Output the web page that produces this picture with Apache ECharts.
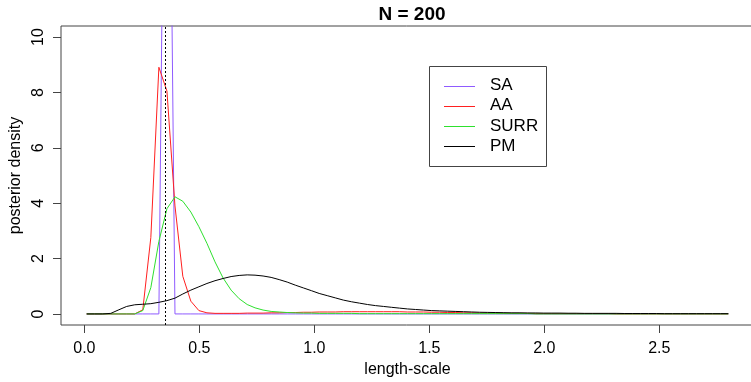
<!DOCTYPE html>
<html>
<head>
<meta charset="utf-8">
<script src="https://cdn.jsdelivr.net/npm/echarts@6/dist/echarts.min.js"></script>
<style>html,body{margin:0;padding:0;background:#fff}#c{width:751px;height:382px}</style>
</head>
<body>
<div id="c"></div>
<script>
// ---- data ----
const xs = [
0.010,0.045,0.080,0.115,0.150,0.184,0.219,0.254,0.289,0.324,
0.359,0.394,0.428,0.463,0.498,0.533,0.568,0.603,0.638,0.673,
0.708,0.742,0.777,0.812,0.847,0.882,0.917,0.952,0.987,1.021,
1.056,1.091,1.126,1.161,1.196,1.231,1.266,1.301,1.335,1.370,
1.405,1.440,1.475,1.510,1.545,1.580,1.615,1.649,1.684,1.719,
1.754,1.789,1.824,1.859,1.894,1.928,1.963,1.998,2.033,2.068,
2.103,2.138,2.173,2.208,2.242,2.277,2.312,2.347,2.382,2.417,
2.452,2.487,2.522,2.557,2.591,2.626,2.661,2.696,2.731,2.766,2.800];

const SA = [
0,0,0,0,0,0,0,0,0,0,
28.7,0,0,0,0,0,0,0,0,0,
0,0,0,0,0,0,0,0,0,0,
0,0,0,0,0,0,0,0,0,0,
0,0,0,0,0,0,0,0,0,0,
0,0,0,0,0,0,0,0,0,0,
0,0,0,0,0,0,0,0,0,0,
0,0,0,0,0,0,0,0,0,0,0];

const AA = [
0,0,0,0,0,0,0,0.15,2.76,8.91,
8.05,3.9,1.36,0.46,0.12,0.04,0.02,0.02,0.02,0.02,
0.03,0.03,0.03,0.04,0.04,0.05,0.05,0.06,0.06,0.07,
0.07,0.07,0.08,0.08,0.08,0.08,0.08,0.08,0.08,0.08,
0.07,0.07,0.07,0.06,0.06,0.05,0.05,0.04,0.04,0.03,
0.03,0.03,0.02,0.02,0.02,0.02,0.01,0.01,0.01,0.01,
0.01,0.01,0.01,0.01,0.01,0.01,0,0,0,0,
0,0,0,0,0,0,0,0,0,0,0];

const SURR = [
0,0,0,0,0,0,0,0.12,0.95,2.62,
3.8,4.23,4.07,3.68,3.15,2.55,1.88,1.3,0.86,0.55,
0.34,0.22,0.14,0.09,0.07,0.05,0.04,0.03,0.03,0.02,
0.02,0.02,0.02,0.02,0.01,0.01,0.01,0.01,0.01,0.01,
0.01,0.01,0.01,0.01,0.01,0.01,0.01,0.01,0.01,0.01,
0.01,0.01,0.01,0.01,0.01,0.01,0,0,0,0,
0,0,0,0,0,0,0,0,0,0,
0,0,0,0,0,0,0,0,0,0,0];

const PM = [
0,0,0,0.02,0.15,0.27,0.33,0.35,0.37,0.42,
0.48,0.57,0.72,0.86,0.98,1.10,1.20,1.28,1.35,1.39,
1.41,1.40,1.37,1.32,1.24,1.15,1.04,0.94,0.84,0.74,
0.66,0.58,0.50,0.44,0.39,0.34,0.30,0.27,0.24,0.21,
0.18,0.16,0.14,0.12,0.11,0.10,0.09,0.08,0.07,0.06,
0.055,0.05,0.045,0.04,0.04,0.035,0.035,0.03,0.03,0.03,
0.025,0.025,0.02,0.02,0.02,0.02,0.02,0.015,0.015,0.015,
0.015,0.015,0.01,0.01,0.01,0.01,0.01,0.01,0.01,0.01,0.01];

const seriesNames = ['SA','AA','SURR','PM'];
const seriesValues = [SA, AA, SURR, PM];
const seriesColors = ['#8f5bff','#ff2020','#2ee02e','#000000'];
const xTicks = [0, 0.5, 1, 1.5, 2, 2.5];
const yTicks = [0, 2, 4, 6, 8, 10];
const refLine = 0.352;
const titleText = 'N = 200';
const xName = 'length-scale';
const yName = 'posterior density';

// ---- chart ----
const FONT = 'Liberation Sans, Arial, sans-serif';
const chart = echarts.init(document.getElementById('c'), null, {renderer: 'canvas'});
const series = seriesNames.map((n, k) => ({
  name: n,
  type: 'line',
  data: xs.map((x, i) => [x, seriesValues[k][i]]),
  symbol: 'none',
  clip: true,
  lineStyle: {width: 1, color: seriesColors[k]},
  itemStyle: {color: seriesColors[k]},
  emphasis: {disabled: true},
  silent: true
}));
series[0].markLine = {
  silent: true, symbol: 'none', animation: false,
  label: {show: false},
  lineStyle: {type: [2, 2], color: '#000', width: 1},
  data: [{xAxis: refLine}]
};

// legend drawn as graphic elements inside a framed box
const legendItems = [];
seriesNames.forEach((n, k) => {
  const y = 85.5 + k * 20.3;
  legendItems.push({type: 'line', shape: {x1: 444, y1: Math.round(y) + 0.5, x2: 475, y2: Math.round(y) + 0.5},
    style: {stroke: seriesColors[k], lineWidth: 1}, silent: true, z: 100});
  legendItems.push({type: 'text', x: 490, y: y, silent: true, z: 100,
    style: {text: n, fill: '#000', font: '17px ' + FONT, textAlign: 'left', textVerticalAlign: 'middle'}});
});

chart.setOption({
  animation: false,
  backgroundColor: '#fff',
  title: {
    text: titleText, left: 407, top: 0, textAlign: 'center',
    textStyle: {fontFamily: FONT, fontWeight: 'bold', fontSize: 19, color: '#000'}
  },
  grid: {left: 61, top: 26, width: 693, height: 299, show: true,
         outerBoundsMode: 'none', containLabel: false,
         borderColor: '#444', borderWidth: 1, backgroundColor: 'transparent'},
  graphic: [{
    type: 'rect', shape: {x: 429.5, y: 66.5, width: 117, height: 100},
    style: {fill: '#fff', stroke: '#444', lineWidth: 1}, silent: true, z: 99
  }].concat(legendItems),
  xAxis: {
    type: 'value', min: -0.1016, max: 2.9116,
    name: xName, nameLocation: 'middle', nameGap: 36,
    nameTextStyle: {fontFamily: FONT, fontSize: 16, color: '#000'},
    axisLine: {show: false, onZero: false},
    splitLine: {show: false},
    axisTick: {show: true, customValues: xTicks, length: 8, inside: false, lineStyle: {color: '#444'}},
    axisLabel: {customValues: xTicks, margin: 16, fontFamily: FONT, fontSize: 16, color: '#000',
                formatter: v => Number(v).toFixed(1)}
  },
  yAxis: {
    type: 'value', min: -0.4, max: 10.4,
    name: yName, nameLocation: 'middle', nameGap: 35,
    nameTextStyle: {fontFamily: FONT, fontSize: 16, color: '#000'},
    axisLine: {show: false, onZero: false},
    splitLine: {show: false},
    axisTick: {show: true, customValues: yTicks, length: 8, inside: false, lineStyle: {color: '#444'}},
    axisLabel: {customValues: yTicks, margin: 14, rotate: 90, fontFamily: FONT, fontSize: 16, color: '#000',
                formatter: v => String(Math.round(v))}
  },
  series: series
});
</script>
</body>
</html>
